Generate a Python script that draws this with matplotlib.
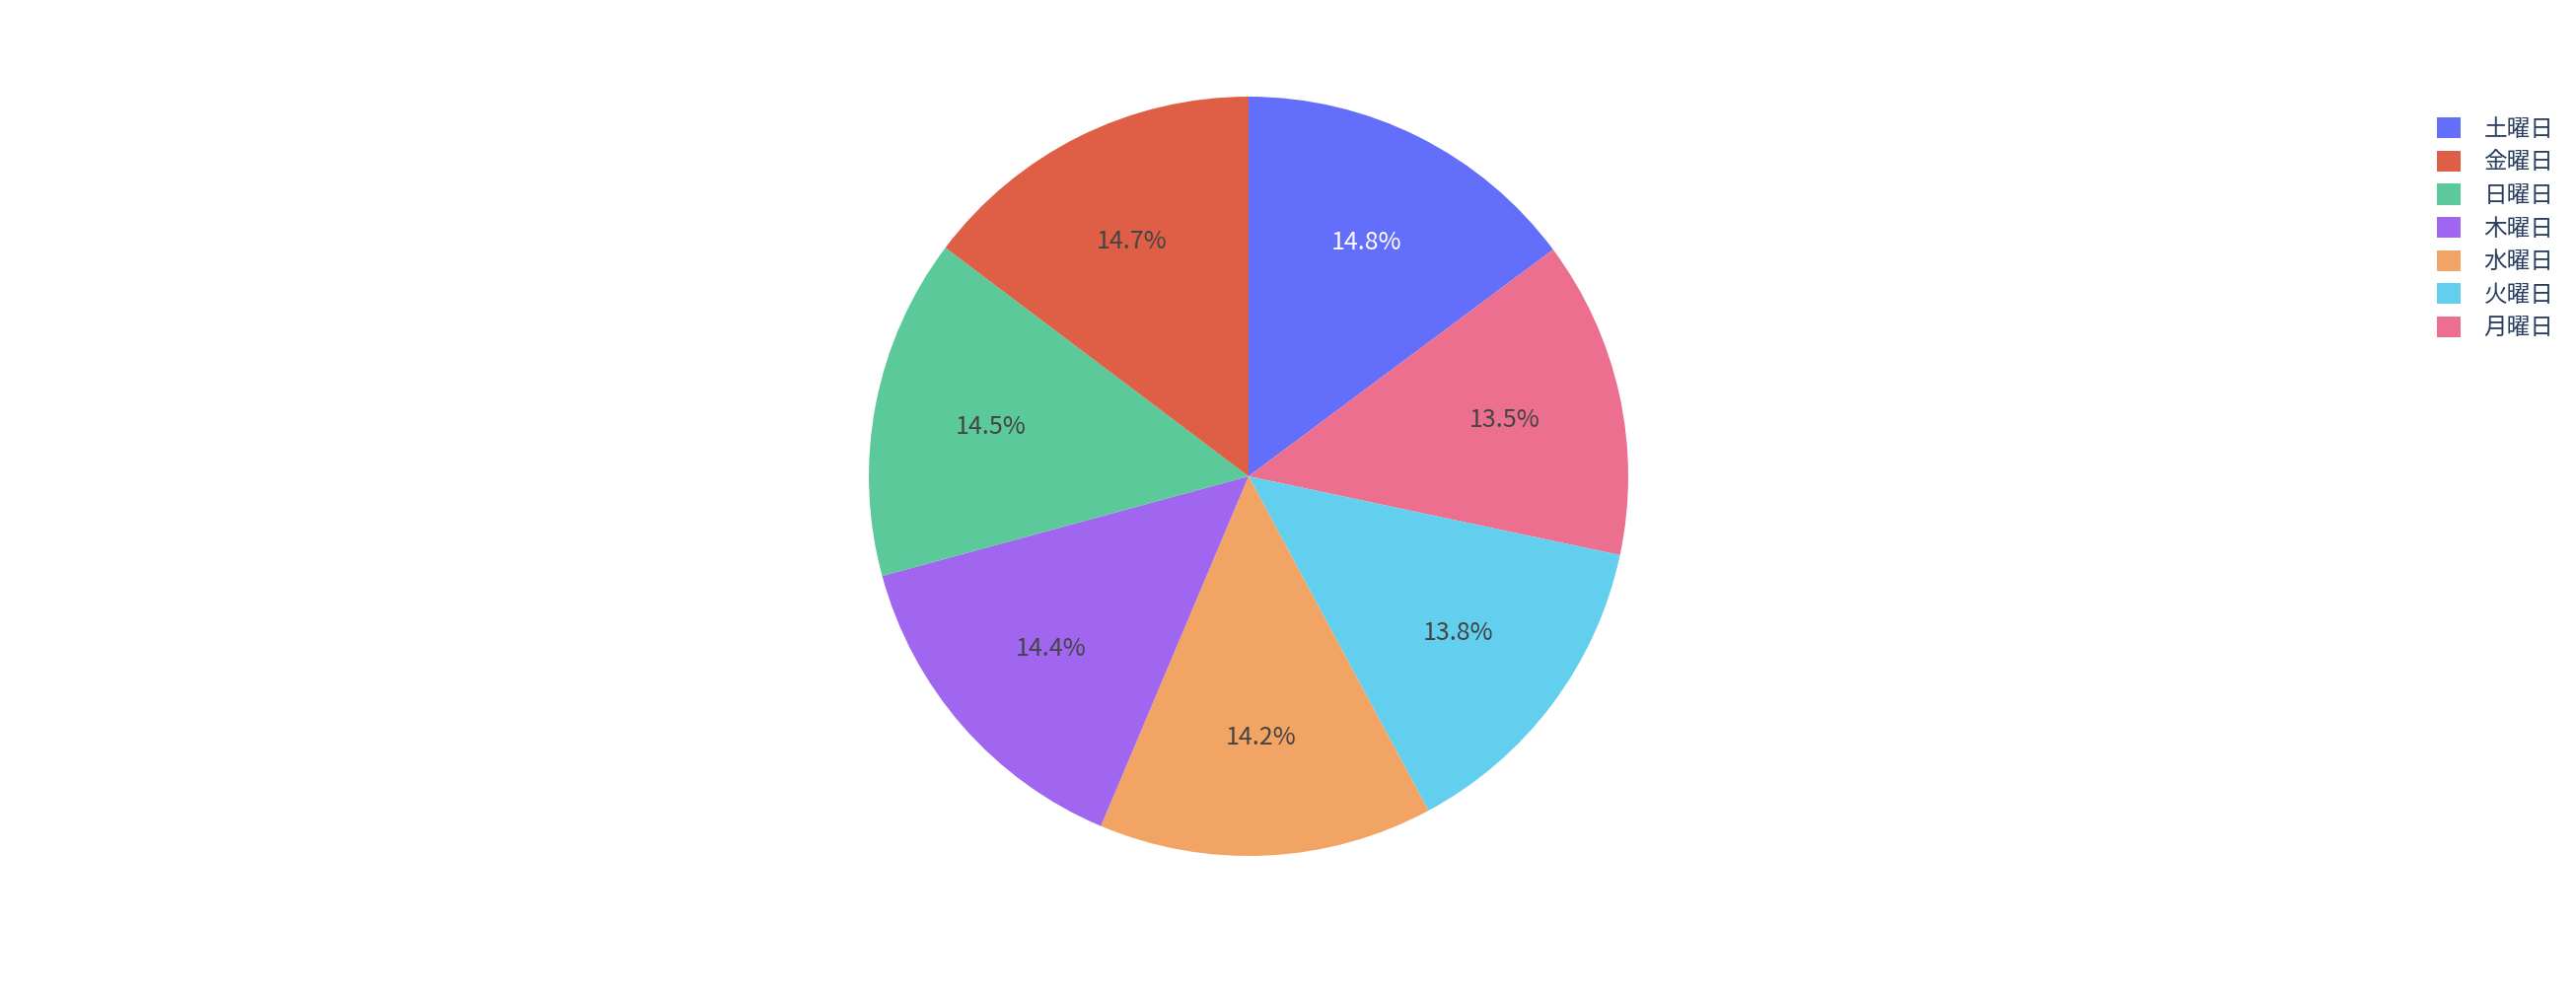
import matplotlib
matplotlib.use("Agg")
import matplotlib.pyplot as plt
from matplotlib.patches import Patch

plt.rcParams['font.family'] = ['Noto Sans CJK JP', 'DejaVu Sans']

# data (sorted descending, plotly-style)
days = ["土曜日", "金曜日", "日曜日", "木曜日", "水曜日", "火曜日", "月曜日"]
shares = [14.8, 14.7, 14.5, 14.4, 14.2, 13.8, 13.5]
colors = ["#636EFA", "#DE5F45", "#5BC99A", "#A066F0", "#F2A465", "#63CFEE", "#ED6F8F"]
text_colors = ["white", "#444444", "#444444", "#444444", "#444444", "#444444", "#444444"]

W, H = 2612, 1008
fig = plt.figure(figsize=(W / 100, H / 100), dpi=100)
cx, cy, r = 1266, 483, 385
ax = fig.add_axes([(cx - r) / W, (H - cy - r) / H, 2 * r / W, 2 * r / H])

# reference goes 土 -> 月 -> 火 ... clockwise from the top, legend order reversed
order = [0, 6, 5, 4, 3, 2, 1]
wedges, texts, autotexts = ax.pie(
    [shares[i] for i in order], colors=[colors[i] for i in order],
    startangle=90, counterclock=False,
    autopct="%.1f%%", pctdistance=0.69, radius=1.0,
    wedgeprops=dict(linewidth=0),
    textprops=dict(fontsize=18),
)
for t, i in zip(autotexts, order):
    t.set_color(text_colors[i])
ax.set_xlim(-1, 1)
ax.set_ylim(-1, 1)
ax.set_aspect("equal")
ax.axis("off")

handles = [Patch(facecolor=c, edgecolor="none") for c in colors]
fig.legend(handles, days, loc="upper left", bbox_to_anchor=(2450 / W, 1 - 98 / H),
           frameon=False, fontsize=17, labelcolor="#2a3f5f",
           handlelength=1.0, handleheight=1.0, handletextpad=1.0, labelspacing=0.42)

fig.savefig("out.png", dpi=100)
